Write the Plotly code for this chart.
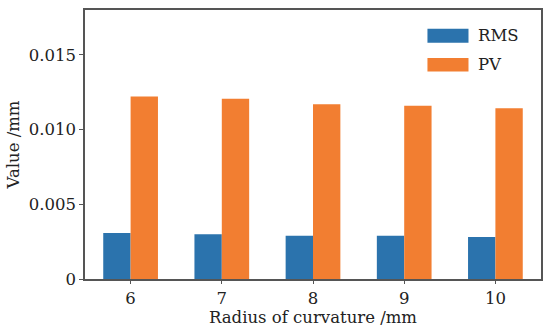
import plotly.graph_objects as go

categories = [6, 7, 8, 9, 10]
rms = [0.00308, 0.00299, 0.00290, 0.00290, 0.00281]
pv = [0.01221, 0.01206, 0.01170, 0.01159, 0.01143]
series_names = ["RMS", "PV"]
series_colors = ["#2b73ad", "#f27e31"]
y_ticks = [0, 0.005, 0.010, 0.015]
y_labels = ["0", "0.005", "0.010", "0.015"]

font_family = "DejaVu Serif"
fs = 16.5

fig = go.Figure()
for vals, off, name, col in zip([rms, pv], [-0.15, 0.15], series_names, series_colors):
    fig.add_trace(go.Bar(x=[c + off for c in categories], y=vals, width=0.3, name=name,
                         marker=dict(color=col, line=dict(width=0)), showlegend=False))

# custom legend (wide patches like the reference)
leg_y = [(0.930, 0.878, 0.904), (0.822, 0.771, 0.797)]
for (y0, y1, yc), name, col in zip(leg_y, series_names, series_colors):
    fig.add_shape(type="rect", xref="paper", yref="paper", x0=0.751, x1=0.841,
                  y0=y1, y1=y0, fillcolor=col, line=dict(width=0))
    fig.add_annotation(xref="paper", yref="paper", x=0.857, y=yc, text=name,
                       showarrow=False, xanchor="left", yanchor="middle",
                       font=dict(family=font_family, size=fs, color="#222"))

axis_common = dict(showline=True, linecolor="#555", linewidth=1.5, mirror=True,
                   ticks="outside", tickcolor="#555", showgrid=False, zeroline=False,
                   tickfont=dict(family=font_family, size=fs, color="#222"))

fig.update_layout(
    width=546, height=331,
    margin=dict(l=85, r=3, t=10, b=52),
    paper_bgcolor="white", plot_bgcolor="white",
    font=dict(family=font_family, size=fs, color="#222"),
    barmode="overlay",
    showlegend=False,
    xaxis=dict(range=[5.5, 10.5], tickmode="array", tickvals=categories,
               ticktext=[str(c) for c in categories], ticklen=3,
               title=dict(text="Radius of curvature /mm", standoff=0,
                          font=dict(family=font_family, size=fs, color="#222")),
               **axis_common),
    yaxis=dict(range=[0, 0.018], tickmode="array", tickvals=y_ticks, ticktext=y_labels,
               ticklen=4,
               title=dict(text="Value /mm", standoff=5,
                          font=dict(family=font_family, size=fs, color="#222")),
               **axis_common),
)

fig.write_html("out.html")
